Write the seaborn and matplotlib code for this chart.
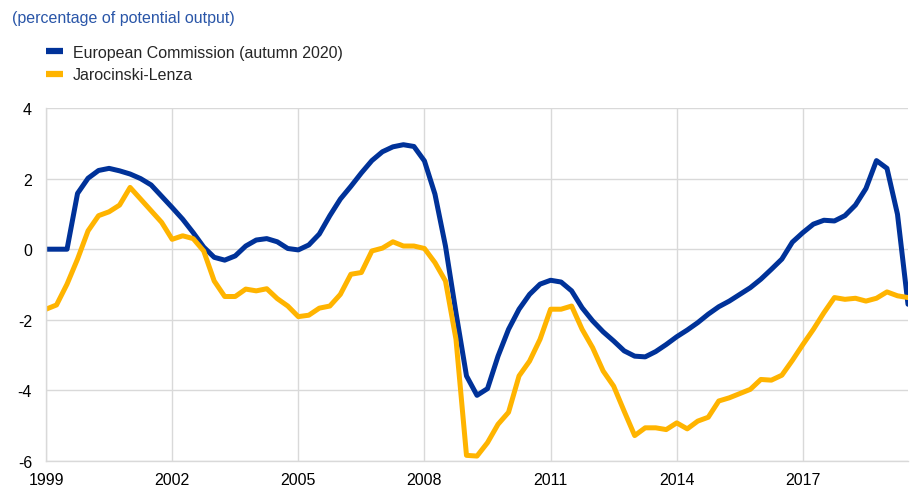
import pandas as pd
import numpy as np
import matplotlib
matplotlib.use('Agg')
import matplotlib.pyplot as plt
import seaborn as sns

# quarterly observations, starting 1999 Q1
start_year = 1999
ec_gap = [0.0, 0.0, 0.0, 1.58, 2.01, 2.23, 2.29, 2.22, 2.13, 2.0,
          1.82, 1.5, 1.18, 0.85, 0.47, 0.06, -0.23, -0.31, -0.19, 0.09,
          0.26, 0.30, 0.21, 0.02, -0.02, 0.12, 0.43, 0.95, 1.42, 1.78,
          2.16, 2.51, 2.76, 2.90, 2.96, 2.91, 2.5, 1.56, 0.09, -1.8,
          -3.59, -4.14, -3.95, -3.03, -2.27, -1.70, -1.28, -0.99, -0.88, -0.93,
          -1.18, -1.66, -2.03, -2.34, -2.6, -2.88, -3.03, -3.05, -2.9, -2.7,
          -2.48, -2.29, -2.08, -1.84, -1.63, -1.47, -1.28, -1.09, -0.85, -0.57,
          -0.28, 0.2, 0.47, 0.71, 0.82, 0.80, 0.95, 1.25, 1.72, 2.51,
          2.29, 0.99, -1.56]
jl_gap = [-1.70, -1.58, -0.99, -0.28, 0.52, 0.95, 1.06, 1.25, 1.75, 1.42,
          1.09, 0.76, 0.28, 0.38, 0.30, -0.05, -0.90, -1.34, -1.34, -1.13,
          -1.18, -1.12, -1.40, -1.61, -1.91, -1.87, -1.67, -1.61, -1.28, -0.71,
          -0.66, -0.05, 0.03, 0.21, 0.09, 0.09, 0.02, -0.38, -0.90, -2.55,
          -5.84, -5.86, -5.48, -4.96, -4.62, -3.59, -3.17, -2.55, -1.70, -1.70,
          -1.61, -2.27, -2.79, -3.45, -3.88, -4.59, -5.28, -5.06, -5.06, -5.11,
          -4.92, -5.09, -4.87, -4.76, -4.30, -4.21, -4.09, -3.97, -3.69, -3.71,
          -3.57, -3.15, -2.70, -2.27, -1.80, -1.37, -1.42, -1.39, -1.47, -1.39,
          -1.21, -1.32, -1.37]
series_names = ['European Commission (autumn 2020)', 'Jarocinski-Lenza']
x_ticks = [1999, 2002, 2005, 2008, 2011, 2014, 2017]
y_ticks = [-6, -4, -2, 0, 2, 4]

dates = start_year + np.arange(len(ec_gap)) / 4
df = pd.DataFrame({
    'date': np.concatenate([dates, dates]),
    'value': ec_gap + jl_gap,
    'series': [series_names[0]] * len(ec_gap) + [series_names[1]] * len(jl_gap),
})

sns.set_style('white')
plt.rcParams['font.family'] = ['Liberation Sans', 'DejaVu Sans']
plt.rcParams['axes.unicode_minus'] = False

fig = plt.figure(figsize=(9.1, 4.89), dpi=100)
ax = fig.add_axes([46 / 910, 1 - 462 / 489, 862 / 910, 353 / 489])

sns.lineplot(data=df, x='date', y='value', hue='series', hue_order=series_names,
             palette=['#003299', '#ffb400'], linewidth=3.6, ax=ax, legend=True)

ax.set_xlim(dates[0], dates[-1])
ax.set_ylim(-6, 4)
ax.set_xticks(x_ticks)
ax.set_xticklabels([str(t) for t in x_ticks])
ax.set_yticks(y_ticks)
ax.set_xlabel('')
ax.set_ylabel('')
ax.grid(True, color='#d9d9d9', linewidth=1)
ax.set_axisbelow(True)
for s in ['top', 'right']:
    ax.spines[s].set_visible(False)
for s in ['left', 'bottom']:
    ax.spines[s].set_color('#d9d9d9')
    ax.spines[s].set_linewidth(1)
ax.tick_params(axis='both', length=0, labelsize=11.5, colors='#000000')
ax.tick_params(axis='y', pad=10)
ax.tick_params(axis='x', pad=8)

handles, labels = ax.get_legend_handles_labels()
ax.get_legend().remove()
for h in handles:
    h.set_linewidth(4.5)
    h.set_solid_capstyle('butt')
fig.legend(handles, labels, loc='upper left', bbox_to_anchor=(46 / 910, 1 - 46 / 489),
           frameon=False, fontsize=11.5, handlelength=1.06, handletextpad=0.63,
           labelspacing=0.45, borderpad=0, borderaxespad=0)

fig.text(12 / 910, 1 - 19 / 489, '(percentage of potential output)', color='#2a56a8',
         fontsize=11.5, va='center', ha='left')

fig.savefig('out.png', dpi=100)
